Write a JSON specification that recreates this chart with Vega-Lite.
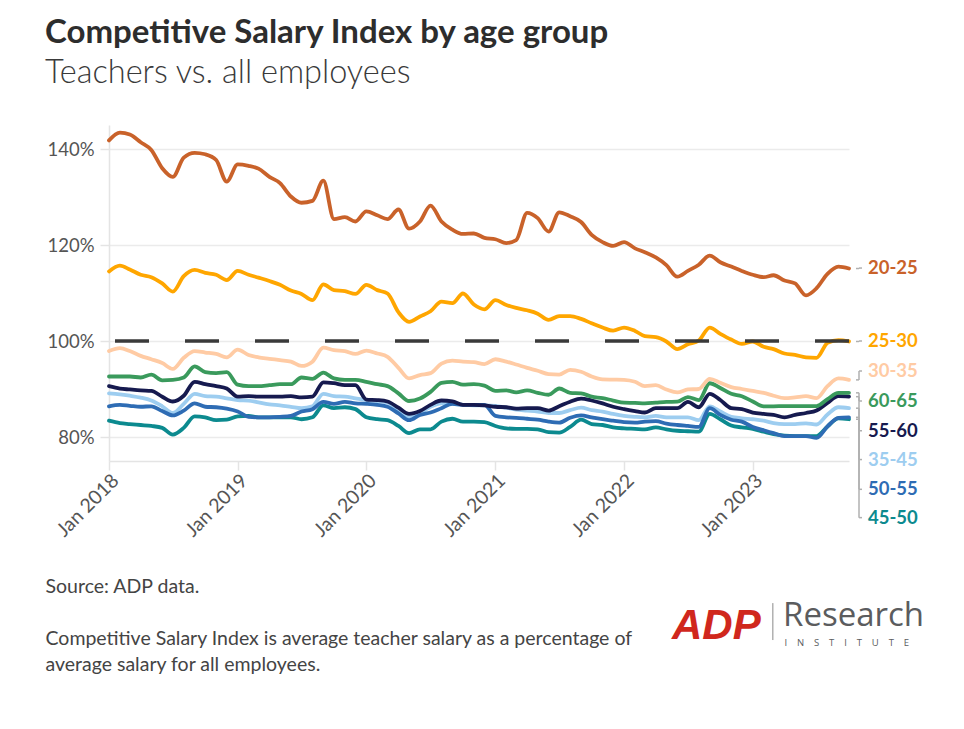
{
  "$schema": "https://vega.github.io/schema/vega-lite/v6.json",
  "width": 740,
  "height": 336,
  "autosize": {"type": "none"},
  "padding": {"left": 109, "top": 125, "right": 115, "bottom": 268},
  "background": "white",
  "config": {"font": "Lato", "view": {"stroke": null}},
  "title": {
    "text": "Competitive Salary Index by age group",
    "subtitle": "Teachers vs. all employees",
    "anchor": "start",
    "frame": "group",
    "dx": -64,
    "offset": 36,
    "font": "Lato",
    "fontSize": 33,
    "fontWeight": "bold",
    "color": "#2d2d2d",
    "subtitleFont": "Lato",
    "subtitleFontSize": 32.5,
    "subtitleFontWeight": 300,
    "subtitleColor": "#3a3a3a",
    "subtitlePadding": 7
  },
  "datasets": {
    "csi": [
      {"d": "2018-01-01", "20-25": 141.8, "25-30": 114.5, "30-35": 97.9, "60-65": 92.6, "55-60": 90.6, "35-45": 89.1, "50-55": 86.4, "45-50": 83.4},
      {"d": "2018-02-01", "20-25": 143.4, "25-30": 115.7, "30-35": 98.5, "60-65": 92.6, "55-60": 90.1, "35-45": 88.9, "50-55": 86.7, "45-50": 82.9},
      {"d": "2018-03-01", "20-25": 143.0, "25-30": 114.9, "30-35": 97.9, "60-65": 92.6, "55-60": 89.9, "35-45": 88.6, "50-55": 86.5, "45-50": 82.7},
      {"d": "2018-04-01", "20-25": 141.4, "25-30": 113.8, "30-35": 96.9, "60-65": 92.4, "55-60": 89.7, "35-45": 88.2, "50-55": 86.3, "45-50": 82.5},
      {"d": "2018-05-01", "20-25": 139.8, "25-30": 113.3, "30-35": 96.2, "60-65": 93.0, "55-60": 89.6, "35-45": 87.6, "50-55": 86.4, "45-50": 82.3},
      {"d": "2018-06-01", "20-25": 136.0, "25-30": 112.0, "30-35": 95.4, "60-65": 91.8, "55-60": 88.4, "35-45": 86.4, "50-55": 85.4, "45-50": 81.9},
      {"d": "2018-07-01", "20-25": 134.2, "25-30": 110.3, "30-35": 94.2, "60-65": 91.9, "55-60": 87.4, "35-45": 85.0, "50-55": 84.5, "45-50": 80.5},
      {"d": "2018-08-01", "20-25": 138.2, "25-30": 113.5, "30-35": 96.5, "60-65": 92.4, "55-60": 88.6, "35-45": 86.9, "50-55": 85.5, "45-50": 81.9},
      {"d": "2018-09-01", "20-25": 139.2, "25-30": 114.8, "30-35": 97.9, "60-65": 94.7, "55-60": 91.5, "35-45": 89.0, "50-55": 87.0, "45-50": 84.3},
      {"d": "2018-10-01", "20-25": 138.9, "25-30": 114.2, "30-35": 97.6, "60-65": 93.5, "55-60": 91.0, "35-45": 88.5, "50-55": 86.3, "45-50": 84.1},
      {"d": "2018-11-01", "20-25": 137.7, "25-30": 113.8, "30-35": 97.3, "60-65": 93.3, "55-60": 90.6, "35-45": 88.4, "50-55": 86.2, "45-50": 83.5},
      {"d": "2018-12-01", "20-25": 133.2, "25-30": 112.7, "30-35": 96.6, "60-65": 93.5, "55-60": 90.1, "35-45": 88.05, "50-55": 85.9, "45-50": 83.6},
      {"d": "2019-01-01", "20-25": 136.8, "25-30": 114.6, "30-35": 98.2, "60-65": 90.9, "55-60": 88.4, "35-45": 87.7, "50-55": 85.3, "45-50": 84.3},
      {"d": "2019-02-01", "20-25": 136.5, "25-30": 113.8, "30-35": 97.1, "60-65": 90.6, "55-60": 88.5, "35-45": 87.6, "50-55": 84.2, "45-50": 84.4},
      {"d": "2019-03-01", "20-25": 135.9, "25-30": 113.2, "30-35": 96.6, "60-65": 90.6, "55-60": 88.4, "35-45": 87.2, "50-55": 84.1, "45-50": 84.1},
      {"d": "2019-04-01", "20-25": 134.2, "25-30": 112.5, "30-35": 96.3, "60-65": 90.8, "55-60": 88.4, "35-45": 86.8, "50-55": 84.1, "45-50": 84.1},
      {"d": "2019-05-01", "20-25": 132.9, "25-30": 111.7, "30-35": 96.0, "60-65": 91.0, "55-60": 88.4, "35-45": 86.6, "50-55": 84.2, "45-50": 84.1},
      {"d": "2019-06-01", "20-25": 130.1, "25-30": 110.5, "30-35": 95.7, "60-65": 91.0, "55-60": 88.5, "35-45": 86.3, "50-55": 84.4, "45-50": 84.1},
      {"d": "2019-07-01", "20-25": 128.8, "25-30": 109.8, "30-35": 94.8, "60-65": 92.4, "55-60": 88.25, "35-45": 86.0, "50-55": 85.3, "45-50": 83.7},
      {"d": "2019-08-01", "20-25": 129.2, "25-30": 108.5, "30-35": 95.7, "60-65": 92.1, "55-60": 88.4, "35-45": 86.4, "50-55": 85.8, "45-50": 84.1},
      {"d": "2019-09-01", "20-25": 133.4, "25-30": 111.8, "30-35": 98.6, "60-65": 93.4, "55-60": 91.4, "35-45": 89.0, "50-55": 87.3, "45-50": 86.6},
      {"d": "2019-10-01", "20-25": 125.4, "25-30": 110.6, "30-35": 98.1, "60-65": 92.2, "55-60": 91.2, "35-45": 88.5, "50-55": 86.9, "45-50": 86.0},
      {"d": "2019-11-01", "20-25": 125.8, "25-30": 110.4, "30-35": 97.9, "60-65": 91.9, "55-60": 90.8, "35-45": 88.4, "50-55": 87.3, "45-50": 86.2},
      {"d": "2019-12-01", "20-25": 124.9, "25-30": 109.8, "30-35": 97.3, "60-65": 91.9, "55-60": 90.8, "35-45": 88.05, "50-55": 87.0, "45-50": 85.8},
      {"d": "2020-01-01", "20-25": 127.0, "25-30": 111.7, "30-35": 98.0, "60-65": 91.5, "55-60": 87.8, "35-45": 87.7, "50-55": 86.9, "45-50": 84.1},
      {"d": "2020-02-01", "20-25": 126.2, "25-30": 110.6, "30-35": 97.4, "60-65": 91.0, "55-60": 87.7, "35-45": 87.5, "50-55": 86.7, "45-50": 83.7},
      {"d": "2020-03-01", "20-25": 125.4, "25-30": 109.9, "30-35": 96.7, "60-65": 90.6, "55-60": 87.4, "35-45": 87.2, "50-55": 86.3, "45-50": 83.5},
      {"d": "2020-04-01", "20-25": 127.4, "25-30": 106.0, "30-35": 94.4, "60-65": 89.1, "55-60": 86.1, "35-45": 85.5, "50-55": 84.9, "45-50": 82.3},
      {"d": "2020-05-01", "20-25": 123.4, "25-30": 104.0, "30-35": 92.2, "60-65": 87.5, "55-60": 84.8, "35-45": 84.2, "50-55": 83.5, "45-50": 80.8},
      {"d": "2020-06-01", "20-25": 124.9, "25-30": 105.1, "30-35": 92.9, "60-65": 88.0, "55-60": 85.4, "35-45": 85.0, "50-55": 84.6, "45-50": 81.6},
      {"d": "2020-07-01", "20-25": 128.2, "25-30": 106.2, "30-35": 93.3, "60-65": 89.4, "55-60": 86.7, "35-45": 86.3, "50-55": 85.1, "45-50": 81.6},
      {"d": "2020-08-01", "20-25": 124.9, "25-30": 108.2, "30-35": 95.3, "60-65": 91.3, "55-60": 87.6, "35-45": 87.0, "50-55": 86.0, "45-50": 83.2},
      {"d": "2020-09-01", "20-25": 123.2, "25-30": 107.9, "30-35": 95.9, "60-65": 91.5, "55-60": 87.4, "35-45": 86.9, "50-55": 86.9, "45-50": 83.8},
      {"d": "2020-10-01", "20-25": 122.3, "25-30": 109.9, "30-35": 95.7, "60-65": 90.9, "55-60": 86.7, "35-45": 86.7, "50-55": 86.7, "45-50": 83.2},
      {"d": "2020-11-01", "20-25": 122.4, "25-30": 107.6, "30-35": 95.6, "60-65": 91.0, "55-60": 86.7, "35-45": 86.6, "50-55": 86.7, "45-50": 83.2},
      {"d": "2020-12-01", "20-25": 121.5, "25-30": 106.6, "30-35": 95.2, "60-65": 90.7, "55-60": 86.6, "35-45": 86.6, "50-55": 86.7, "45-50": 83.1},
      {"d": "2021-01-01", "20-25": 121.2, "25-30": 108.5, "30-35": 96.2, "60-65": 89.6, "55-60": 86.3, "35-45": 86.5, "50-55": 84.4, "45-50": 82.3},
      {"d": "2021-02-01", "20-25": 120.4, "25-30": 107.5, "30-35": 95.7, "60-65": 89.7, "55-60": 86.2, "35-45": 86.1, "50-55": 84.1, "45-50": 81.8},
      {"d": "2021-03-01", "20-25": 121.0, "25-30": 106.9, "30-35": 95.1, "60-65": 89.3, "55-60": 85.9, "35-45": 85.7, "50-55": 84.0, "45-50": 81.7},
      {"d": "2021-04-01", "20-25": 126.7, "25-30": 106.4, "30-35": 94.4, "60-65": 89.7, "55-60": 86.0, "35-45": 85.5, "50-55": 83.8, "45-50": 81.7},
      {"d": "2021-05-01", "20-25": 125.6, "25-30": 105.7, "30-35": 93.8, "60-65": 89.2, "55-60": 86.0, "35-45": 85.3, "50-55": 83.6, "45-50": 81.6},
      {"d": "2021-06-01", "20-25": 122.8, "25-30": 104.4, "30-35": 93.1, "60-65": 88.8, "55-60": 85.5, "35-45": 85.0, "50-55": 83.2, "45-50": 81.0},
      {"d": "2021-07-01", "20-25": 126.8, "25-30": 105.2, "30-35": 93.0, "60-65": 90.1, "55-60": 86.4, "35-45": 85.0, "50-55": 83.0, "45-50": 80.9},
      {"d": "2021-08-01", "20-25": 126.0, "25-30": 105.2, "30-35": 94.0, "60-65": 89.2, "55-60": 87.35, "35-45": 85.6, "50-55": 84.0, "45-50": 82.1},
      {"d": "2021-09-01", "20-25": 124.8, "25-30": 104.6, "30-35": 93.6, "60-65": 89.1, "55-60": 88.0, "35-45": 86.1, "50-55": 84.5, "45-50": 83.6},
      {"d": "2021-10-01", "20-25": 122.1, "25-30": 103.7, "30-35": 92.6, "60-65": 88.4, "55-60": 87.6, "35-45": 85.6, "50-55": 84.1, "45-50": 82.7},
      {"d": "2021-11-01", "20-25": 120.6, "25-30": 102.8, "30-35": 92.0, "60-65": 88.1, "55-60": 87.0, "35-45": 85.3, "50-55": 83.7, "45-50": 82.5},
      {"d": "2021-12-01", "20-25": 119.8, "25-30": 102.15, "30-35": 91.95, "60-65": 87.6, "55-60": 86.3, "35-45": 84.8, "50-55": 83.4, "45-50": 82.0},
      {"d": "2022-01-01", "20-25": 120.6, "25-30": 102.8, "30-35": 91.9, "60-65": 87.15, "55-60": 85.8, "35-45": 84.4, "50-55": 83.1, "45-50": 81.8},
      {"d": "2022-02-01", "20-25": 119.3, "25-30": 102.1, "30-35": 91.5, "60-65": 87.1, "55-60": 85.4, "35-45": 84.2, "50-55": 83.0, "45-50": 81.7},
      {"d": "2022-03-01", "20-25": 118.5, "25-30": 101.0, "30-35": 90.6, "60-65": 87.0, "55-60": 85.1, "35-45": 84.1, "50-55": 83.2, "45-50": 81.6},
      {"d": "2022-04-01", "20-25": 117.4, "25-30": 100.8, "30-35": 90.8, "60-65": 87.15, "55-60": 86.0, "35-45": 84.4, "50-55": 83.3, "45-50": 82.0},
      {"d": "2022-05-01", "20-25": 115.8, "25-30": 99.9, "30-35": 89.9, "60-65": 87.3, "55-60": 86.0, "35-45": 84.1, "50-55": 82.8, "45-50": 81.6},
      {"d": "2022-06-01", "20-25": 113.4, "25-30": 98.3, "30-35": 89.3, "60-65": 87.35, "55-60": 86.0, "35-45": 84.1, "50-55": 82.5, "45-50": 81.3},
      {"d": "2022-07-01", "20-25": 114.6, "25-30": 99.3, "30-35": 89.9, "60-65": 88.3, "55-60": 87.3, "35-45": 84.1, "50-55": 82.3, "45-50": 81.2},
      {"d": "2022-08-01", "20-25": 115.9, "25-30": 100.1, "30-35": 90.0, "60-65": 87.7, "55-60": 86.2, "35-45": 83.5, "50-55": 82.1, "45-50": 81.1},
      {"d": "2022-09-01", "20-25": 117.8, "25-30": 102.8, "30-35": 92.1, "60-65": 91.2, "55-60": 89.0, "35-45": 86.4, "50-55": 86.0, "45-50": 84.8},
      {"d": "2022-10-01", "20-25": 116.4, "25-30": 101.5, "30-35": 91.3, "60-65": 90.2, "55-60": 87.7, "35-45": 85.3, "50-55": 84.6, "45-50": 83.7},
      {"d": "2022-11-01", "20-25": 115.5, "25-30": 100.3, "30-35": 90.4, "60-65": 89.0, "55-60": 86.0, "35-45": 84.2, "50-55": 83.6, "45-50": 82.4},
      {"d": "2022-12-01", "20-25": 114.6, "25-30": 99.4, "30-35": 90.0, "60-65": 88.5, "55-60": 85.8, "35-45": 83.9, "50-55": 83.2, "45-50": 82.0},
      {"d": "2023-01-01", "20-25": 113.8, "25-30": 99.9, "30-35": 89.6, "60-65": 87.4, "55-60": 85.1, "35-45": 83.7, "50-55": 82.1, "45-50": 81.7},
      {"d": "2023-02-01", "20-25": 113.3, "25-30": 98.8, "30-35": 89.2, "60-65": 86.4, "55-60": 84.8, "35-45": 83.4, "50-55": 81.4, "45-50": 81.1},
      {"d": "2023-03-01", "20-25": 113.7, "25-30": 98.3, "30-35": 88.6, "60-65": 86.4, "55-60": 84.6, "35-45": 82.9, "50-55": 80.8, "45-50": 80.6},
      {"d": "2023-04-01", "20-25": 112.6, "25-30": 97.4, "30-35": 88.1, "60-65": 86.45, "55-60": 84.1, "35-45": 82.7, "50-55": 80.2, "45-50": 80.3},
      {"d": "2023-05-01", "20-25": 112.0, "25-30": 97.1, "30-35": 88.25, "60-65": 86.45, "55-60": 84.6, "35-45": 82.7, "50-55": 80.2, "45-50": 80.2},
      {"d": "2023-06-01", "20-25": 109.5, "25-30": 96.6, "30-35": 88.5, "60-65": 86.45, "55-60": 85.0, "35-45": 82.85, "50-55": 80.2, "45-50": 80.2},
      {"d": "2023-07-01", "20-25": 111.0, "25-30": 96.5, "30-35": 88.1, "60-65": 86.45, "55-60": 85.5, "35-45": 82.6, "50-55": 79.8, "45-50": 80.2},
      {"d": "2023-08-01", "20-25": 114.0, "25-30": 99.6, "30-35": 90.6, "60-65": 87.9, "55-60": 87.1, "35-45": 84.7, "50-55": 82.2, "45-50": 82.2},
      {"d": "2023-09-01", "20-25": 115.5, "25-30": 100.2, "30-35": 92.2, "60-65": 89.2, "55-60": 88.5, "35-45": 86.2, "50-55": 84.0, "45-50": 83.9},
      {"d": "2023-10-01", "20-25": 115.1, "25-30": 99.9, "30-35": 91.9, "60-65": 89.2, "55-60": 88.4, "35-45": 86.0, "50-55": 84.1, "45-50": 83.7}
    ],
    "labels": [
      {"group": "20-25", "last": 115.1, "labelAt": 115.2},
      {"group": "25-30", "last": 99.9, "labelAt": 100.0},
      {"group": "30-35", "last": 91.9, "labelAt": 93.75},
      {"group": "60-65", "last": 89.2, "labelAt": 87.5},
      {"group": "55-60", "last": 88.4, "labelAt": 81.3},
      {"group": "35-45", "last": 86.0, "labelAt": 75.3},
      {"group": "50-55", "last": 84.1, "labelAt": 69.1},
      {"group": "45-50", "last": 83.7, "labelAt": 63.2}
    ]
  },
  "layer": [
    {
      "data": {"name": "csi"},
      "transform": [
        {"fold": ["45-50", "35-45", "50-55", "55-60", "60-65", "30-35", "25-30", "20-25"], "as": ["group", "v"]}
      ],
      "mark": {"type": "line", "interpolate": "monotone", "strokeWidth": 3.8, "strokeCap": "round", "strokeJoin": "round"},
      "encoding": {
        "x": {
          "field": "d",
          "type": "temporal",
          "scale": {"type": "utc", "domain": [{"year": 2018, "month": 1, "date": 1, "utc": true}, {"year": 2023, "month": 10, "date": 1, "utc": true}]},
          "axis": {
            "values": [
              {"year": 2018, "month": 1, "date": 1, "utc": true},
              {"year": 2019, "month": 1, "date": 1, "utc": true},
              {"year": 2020, "month": 1, "date": 1, "utc": true},
              {"year": 2021, "month": 1, "date": 1, "utc": true},
              {"year": 2022, "month": 1, "date": 1, "utc": true},
              {"year": 2023, "month": 1, "date": 1, "utc": true}
            ],
            "labelExpr": "utcFormat(datum.value, '%b %Y')",
            "labelAngle": -45,
            "labelFont": "Lato",
            "labelFontSize": 19.5,
            "labelColor": "#555555",
            "labelPadding": 1,
            "tickSize": 9,
            "tickColor": "#e4e4e4",
            "tickWidth": 1.5,
            "domainColor": "#e4e4e4",
            "domainWidth": 1.5,
            "grid": false,
            "title": "Source: ADP data.",
            "titleX": -64,
            "titleY": 131,
            "titleAlign": "left",
            "titleAnchor": "start",
            "titleBaseline": "alphabetic",
            "titleAngle": 0,
            "titleFont": "Lato",
            "titleFontSize": 19.5,
            "titleFontWeight": "normal",
            "titleColor": "#444444"
          }
        },
        "y": {
          "field": "v",
          "type": "quantitative",
          "scale": {"domain": [75, 145], "nice": false, "zero": false},
          "axis": {
            "values": [80, 100, 120, 140],
            "labelExpr": "datum.value + '%'",
            "labelFont": "Lato",
            "labelFontSize": 18.5,
            "labelColor": "#555555",
            "labelPadding": 6,
            "tickSize": 9,
            "tickColor": "#e4e4e4",
            "tickWidth": 1.5,
            "domainColor": "#e4e4e4",
            "domainWidth": 1.5,
            "gridColor": "#ebebeb",
            "gridWidth": 1.5,
            "title": ["Competitive Salary Index is average teacher salary as a percentage of", "average salary for all employees."],
            "titleX": -64,
            "titleY": 519,
            "titleAlign": "left",
            "titleAnchor": "start",
            "titleBaseline": "alphabetic",
            "titleAngle": 0,
            "titleFont": "Lato",
            "titleFontSize": 19.5,
            "titleFontWeight": "normal",
            "titleColor": "#444444",
            "titleLineHeight": 26.5
          }
        },
        "color": {
          "field": "group",
          "type": "nominal",
          "scale": {
            "domain": ["20-25", "25-30", "30-35", "60-65", "55-60", "35-45", "50-55", "45-50"],
            "range": ["#C9622A", "#FFA600", "#FFCBA4", "#3A9A5C", "#161A4F", "#9DCDF0", "#2E6CB4", "#0C8A8F"]
          },
          "legend": null
        }
      }
    },
    {
      "data": {"values": [{}]},
      "mark": {"type": "rule", "strokeDash": [34, 36], "strokeWidth": 3.5, "color": "#3a3a3a"},
      "encoding": {"y": {"datum": 100, "type": "quantitative"}}
    },
    {
      "data": {"name": "labels"},
      "mark": {"type": "rule", "color": "#b0b0b0", "strokeWidth": 1.5, "xOffset": 7, "x2Offset": 10},
      "encoding": {
        "x": {"datum": {"year": 2023, "month": 10, "date": 1, "utc": true}, "type": "temporal"},
        "x2": {"datum": {"year": 2023, "month": 10, "date": 1, "utc": true}},
        "y": {"field": "last", "type": "quantitative"}
      }
    },
    {
      "data": {"name": "labels"},
      "mark": {"type": "rule", "color": "#b0b0b0", "strokeWidth": 1.5, "xOffset": 10},
      "encoding": {
        "x": {"datum": {"year": 2023, "month": 10, "date": 1, "utc": true}, "type": "temporal"},
        "y": {"field": "last", "type": "quantitative"},
        "y2": {"field": "labelAt"}
      }
    },
    {
      "data": {"name": "labels"},
      "mark": {"type": "rule", "color": "#b0b0b0", "strokeWidth": 1.5, "xOffset": 10, "x2Offset": 13},
      "encoding": {
        "x": {"datum": {"year": 2023, "month": 10, "date": 1, "utc": true}, "type": "temporal"},
        "x2": {"datum": {"year": 2023, "month": 10, "date": 1, "utc": true}},
        "y": {"field": "labelAt", "type": "quantitative"}
      }
    },
    {
      "data": {"name": "labels"},
      "mark": {"type": "text", "align": "left", "baseline": "middle", "xOffset": 19, "font": "Lato", "fontSize": 18.5, "fontWeight": "bold"},
      "encoding": {
        "x": {"datum": {"year": 2023, "month": 10, "date": 1, "utc": true}, "type": "temporal"},
        "y": {"field": "labelAt", "type": "quantitative"},
        "text": {"field": "group"},
        "color": {"field": "group", "type": "nominal", "legend": null}
      }
    },
    {
      "data": {"values": [{}]},
      "mark": {"type": "text", "text": "ADP", "align": "left", "baseline": "alphabetic", "font": "Liberation Sans", "fontSize": 42, "fontWeight": "bold", "fontStyle": "italic", "color": "#D0271D"},
      "encoding": {
        "x": {"datum": {"year": 2022, "month": 5, "date": 17, "utc": true}, "type": "temporal"},
        "y": {"datum": 38.0, "type": "quantitative"}
      }
    },
    {
      "data": {"values": [{}]},
      "mark": {"type": "rule", "color": "#8a8a8a", "strokeWidth": 1},
      "encoding": {
        "x": {"datum": {"year": 2023, "month": 2, "date": 27, "utc": true}, "type": "temporal"},
        "y": {"datum": 45.4, "type": "quantitative"},
        "y2": {"datum": 37.7}
      }
    },
    {
      "data": {"values": [{}]},
      "mark": {"type": "text", "text": "Research", "align": "left", "baseline": "alphabetic", "font": "Open Sans", "fontSize": 33, "color": "#5b5c5e"},
      "encoding": {
        "x": {"datum": {"year": 2023, "month": 3, "date": 28, "utc": true}, "type": "temporal"},
        "y": {"datum": 40.6, "type": "quantitative"}
      }
    },
    {
      "data": {"values": [{}]},
      "mark": {"type": "text", "text": "I\u00a0\u00a0\u00a0\u00a0N\u00a0\u00a0\u00a0\u00a0S\u00a0\u00a0\u00a0\u00a0T\u00a0\u00a0\u00a0\u00a0I\u00a0\u00a0\u00a0\u00a0T\u00a0\u00a0\u00a0\u00a0U\u00a0\u00a0\u00a0\u00a0T\u00a0\u00a0\u00a0\u00a0E", "align": "left", "baseline": "alphabetic", "font": "Open Sans", "fontSize": 9.5, "color": "#5b5c5e"},
      "encoding": {
        "x": {"datum": {"year": 2023, "month": 4, "date": 1, "utc": true}, "type": "temporal"},
        "y": {"datum": 36.5, "type": "quantitative"}
      }
    }
  ]
}
